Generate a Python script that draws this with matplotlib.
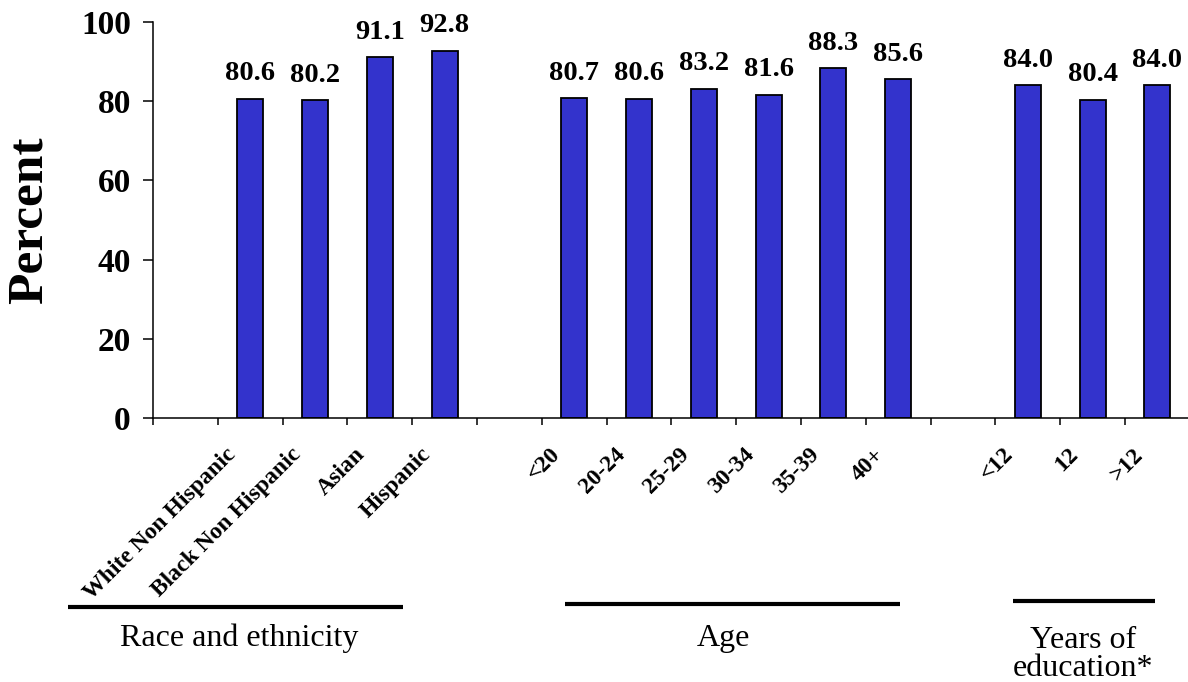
import matplotlib.pyplot as plt
import matplotlib.transforms as mtransforms
import numpy as np

plt.rcParams['font.family'] = ['Liberation Serif', 'DejaVu Serif']

# data
race_labels = ['White Non Hispanic', 'Black Non Hispanic', 'Asian', 'Hispanic']
race_values = [80.6, 80.2, 91.1, 92.8]
age_labels = ['<20', '20-24', '25-29', '30-34', '35-39', '40+']
age_values = [80.7, 80.6, 83.2, 81.6, 88.3, 85.6]
edu_labels = ['<12', '12', '>12']
edu_values = [84.0, 80.4, 84.0]
group_names = ['Race and ethnicity', 'Age', 'Years of\neducation*']
yticks = [0, 20, 40, 60, 80, 100]

# slot positions: one empty slot before each group
race_x = np.arange(len(race_labels)) + 1.5
age_x = np.arange(len(age_labels)) + 6.5
edu_x = np.arange(len(edu_labels)) + 13.5

labels = race_labels + age_labels + edu_labels
values = race_values + age_values + edu_values
xs = np.concatenate([race_x, age_x, edu_x])

W, H = 1188, 682
fig = plt.figure(figsize=(W / 100, H / 100), dpi=100)
ax = fig.add_axes([153 / W, 264 / H, 1035 / W, 396 / H])

ax.bar(xs, values, width=0.4, color='#3333CC', edgecolor='black', linewidth=1.3, zorder=2)

for x, v in zip(xs, values):
    ax.annotate('%.1f' % v, (x, v), xytext=(0, 9), textcoords='offset points',
                ha='center', va='bottom', fontsize=20.5, fontweight='bold')

ax.set_xlim(0, 1035 / 64.8)
ax.set_ylim(0, 100)
ax.set_yticks(yticks)
ax.set_yticklabels([str(t) for t in yticks], fontsize=24, fontweight='bold')
ax.set_xticks(np.arange(0, 16))
ax.set_xticklabels([])
ax.tick_params(axis='y', direction='out', length=7, width=1.1, pad=9)
ax.tick_params(axis='x', direction='out', length=5, width=1.1)
for s in ['top', 'right']:
    ax.spines[s].set_visible(False)
for s in ['left', 'bottom']:
    ax.spines[s].set_linewidth(1.1)

ax.set_ylabel('Percent', fontsize=37, fontweight='bold')
ax.yaxis.set_label_coords(-0.097, 0.5)

# rotated category labels under the axis
off = mtransforms.offset_copy(ax.transData, fig=fig, x=-10, y=-26, units='dots')
for x, lab in zip(xs, labels):
    ax.text(x, 0, lab, rotation=45, ha='right', va='top', fontsize=17,
            fontweight='bold', transform=off, clip_on=False)

# group underlines and names
trans = mtransforms.blended_transform_factory(ax.transData, ax.transAxes)
group_spans = [(-1.31, 3.86), (6.36, 11.53), (13.27, 15.46)]
group_line_y = [-0.477, -0.470, -0.462]
group_text_x = [1.33, 8.8, 14.35]
group_text_y = [-0.556, -0.556, -0.598]
for (a, b), ly, tx, ty, name in zip(group_spans, group_line_y, group_text_x,
                                    group_text_y, group_names):
    ax.plot([a, b], [ly, ly], color='black', linewidth=3, transform=trans,
            clip_on=False, solid_capstyle='butt')
    ax.text(tx, ty, name, ha='center', va='center', fontsize=23,
            transform=trans, linespacing=0.95)

fig.savefig('out.png', dpi=100)
